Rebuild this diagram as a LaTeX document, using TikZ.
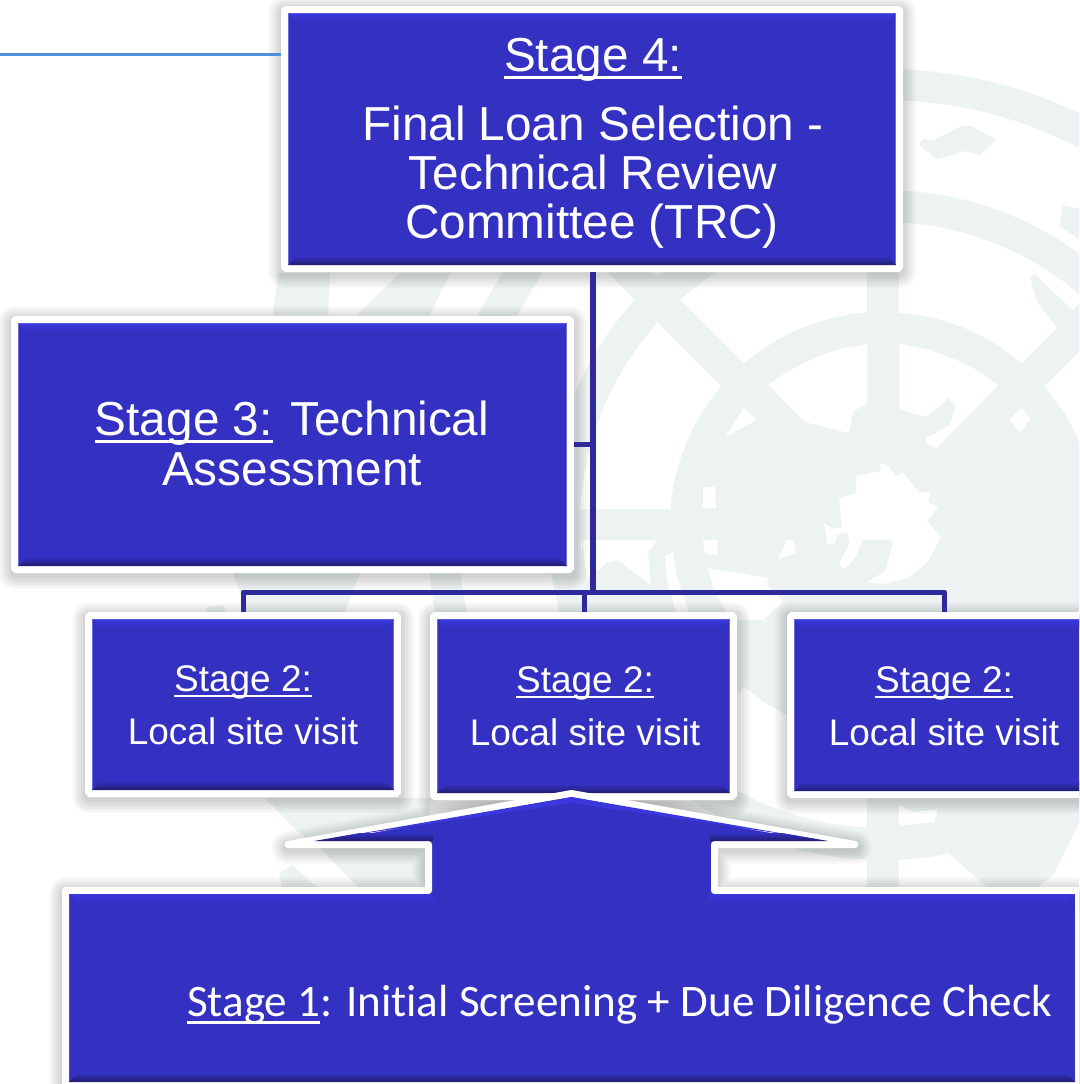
\documentclass[tikz,border=0pt]{standalone}
\usepackage{fontspec}
\setmainfont{Liberation Sans}
\newfontfamily\carl[Ligatures=NoCommon]{Carlito}
\usetikzlibrary{calc}
\definecolor{wm}{HTML}{EDF3F3}
\definecolor{boxblue}{HTML}{3330C2}
\definecolor{boxlight}{HTML}{3A37DC}
\definecolor{boxdark}{HTML}{1F1D6C}
\definecolor{boxedge}{HTML}{6A68DC}
\definecolor{conn}{HTML}{2E2A9C}
\definecolor{rule}{HTML}{4B92DB}
\newcommand{\ulx}[3]{\setbox0=\hbox{#1}\rlap{\raisebox{#2}{\rule{\wd0}{#3}}}#1}
\tikzset{
  bluebox/.style={rectangle,draw=white,line width=7pt,fill=boxblue,rounded corners=1.5pt,outer sep=0pt,inner sep=0pt,text=white,align=center},
  linkline/.style={draw=conn,line width=5pt},
  trunkline/.style={draw=conn,line width=6pt},
  biglabel/.style={text=white,font=\fontsize{47.7}{50}\selectfont,anchor=base},
  midlabel/.style={text=white,font=\fontsize{37}{40}\selectfont,anchor=base},
}
% soft shadow: stacked translucent strokes round a path, shifted down
\newcommand{\softshadow}[1]{%
  \foreach \w in {33,30,...,9}{
    \draw[black,opacity=0.02,line width=\w pt,line join=round,yshift=-3pt] #1;
  }
}
\newcommand{\bevel}[1]{%
  \draw[boxedge,line width=0.6pt] ($(#1.south west)+(3.8pt,3.8pt)$) rectangle ($(#1.north east)+(-3.8pt,-3.8pt)$);
  \shade[top color=boxlight,bottom color=boxblue] ($(#1.north west)+(4.2pt,-4.2pt)$) -- ($(#1.north east)+(-4.2pt,-4.2pt)$) -- ($(#1.north east)+(-12.5pt,-12.5pt)$) -- ($(#1.north west)+(12.5pt,-12.5pt)$) -- cycle;
  \shade[top color=boxblue,bottom color=boxdark,middle color=boxblue!55!boxdark] ($(#1.south west)+(3.5pt,3.5pt)$) -- ($(#1.south east)+(-3.5pt,3.5pt)$) -- ($(#1.south east)+(-12.5pt,12.5pt)$) -- ($(#1.south west)+(12.5pt,12.5pt)$) -- cycle;
}
\begin{document}
\begin{tikzpicture}[x=1pt,y=-1pt]
\useasboundingbox (0,0) rectangle (1079,1084);
\fill[white] (0,0) rectangle (1079,1084);
\begin{scope}
\clip (0,0) rectangle (1079,1084);
% watermark rings
\fill[wm,even odd rule] (883,525) circle (456pt) (883,525) circle (425pt);
\fill[wm,even odd rule] (883,525) circle (335pt) (883,525) circle (303pt);
\fill[wm] (883,525) circle (213pt);
\foreach \a in {0,45,...,315}{
  \draw[wm,line width=32pt] (883,525) -- ++(\a:456pt);
}
% land outside the inner ring
\fill[wm] (582,540) rectangle (725,640);
\fill[wm] (899,780) -- (1079,780) -- (1079,823) -- (1053,875) -- (1038,887) -- (987,887) -- (948,853) -- (899,858) -- cycle;
\fill[wm] (1030,277) -- (1034,274) -- (1073,310) -- (1079,304) -- (1079,335) -- (1056,327) -- (1037,302) -- cycle;
\fill[wm] (1063,205) -- (1079,209) -- (1079,239) -- (1059.5,226) -- cycle;
\fill[wm] (919,145) -- (923,139) -- (932,141) -- (962,126) -- (971,126) -- (995,139) -- (993,143.5) -- (979,155) -- (964.6,151) -- (937.6,159.6) -- cycle;
% white seas
\fill[white] (867,344) -- (867,404) -- (853,411) -- (849,433) -- (805,422) -- (768,385) -- (790,370) -- (814,358) -- (840,349) -- cycle;
\fill[white] (899.5,344) -- (899.5,409) -- (926,417) -- (949,398) -- (956,406) -- (950,425) -- (927,438) -- (925,442) -- (936,448.5) -- (998.5,385) -- (980,372) -- (961.5,362) -- (930,350) -- cycle;
\fill[white] (1045,385) -- (1079,354) -- (1079,413) -- (1065,413) -- (1055,400) -- cycle;
\fill[white] (744,408) -- (757,420) -- (725,437) -- cycle;
\fill[white] (1022,408) -- (1030,419) -- (1020,433.6) -- (1010,419) -- cycle;
\fill[white] (856,476) -- (881,471) -- (880,464) -- (888,465) -- (896,477) -- (902.5,472) -- (919,492) -- (931,492) -- (928,502) -- (938,507) -- (927,521) -- (941,537) -- (927,563) -- (907,578) -- (883,584) -- (868,582) -- (885,571) -- (893,543) -- (890,540) -- (862,540) -- (856,557) -- (844,569) -- (839,564) -- (850,542) -- (847,532) -- (837,534) -- (835,543) -- (828,545) -- (826,537) -- (824,523) -- (833,529) -- (842,527) -- (839,499) -- (856,493) -- cycle;
\fill[white] (703,487) -- (715,487) -- (716,508) -- (703,508) -- cycle;
\fill[white] (703,540) -- (717,540) -- (717,555) -- (705,554) -- cycle;
\fill[white] (778,559) -- (787,540) -- (793,540) -- (796,553) -- cycle;
\fill[white] (582,540) -- (657,540) -- (648,552) -- (651,585) -- (618,560) -- (608,562) -- (596,572) -- (587,578) -- cycle;
\fill[white] (665,556) -- (673,552) -- (677,577) -- (688,610) -- (680,625) -- (667,580) -- cycle;
\fill[white] (708,568) -- (768,578) -- (767,586) -- (783,601) -- (763,620) -- (733,620) -- (725,610) -- (713,587) -- cycle;
\fill[white] (899,805) -- (913,812) -- (938,809) -- (934,822) -- (899,825.7) -- cycle;
% wreath
\fill[wm] (278,273) -- (330,273) -- (328,315) -- (273,315) -- cycle;
\fill[wm] (400,273) -- (450,273) -- (430,315) -- (357,315) -- cycle;
\fill[wm] (502,273) -- (542,273) -- (517,315) -- (480,315) -- cycle;
\fill[wm] (233,573) -- (360,573) -- (345,612) -- (247,612) -- cycle;
\fill[wm] (207,607) -- (223,605) -- (226,612) -- (205,612) -- cycle;
\fill[wm] (265,798) -- (430,798) -- (425,887) -- (358,887) -- (320,848) -- (296,830) -- cycle;
\fill[wm] (279,873) -- (292,865) -- (317,887) -- (282,887) -- cycle;
% shadows
\softshadow{(284.5,9.5) rectangle (899.5,268.5)}
\softshadow{(14.5,319.5) rectangle (570.5,569.5)}
\softshadow{(88.5,615.5) rectangle (397.5,793.5)}
\softshadow{(433.5,615.5) rectangle (733.5,796.5)}
\softshadow{(790.5,615.5) rectangle (1099.5,794.5)}
\softshadow{(65.5,890.5) -- (428.5,890.5) -- (428.5,844.5) -- (288,844.5) -- (571.5,793.5) -- (855,844.5) -- (714.5,844.5) -- (714.5,890.5) -- (1100,890.5) -- (1100,1085.5) -- (65.5,1085.5) -- cycle}
% boxes
\node[bluebox,minimum width=615pt,minimum height=259pt] (s4) at (592,139) {};
\node[bluebox,minimum width=556pt,minimum height=250pt] (s3) at (292.5,444.5) {};
\node[bluebox,minimum width=309pt,minimum height=178pt] (s2a) at (243,704.5) {};
\node[bluebox,minimum width=300pt,minimum height=181pt] (s2b) at (583.5,706) {};
\node[bluebox,minimum width=309pt,minimum height=179pt] (s2c) at (945,705) {};
% connectors
\coordinate (bus) at (593,592);
\coordinate (trunktop) at (593,272);
\coordinate (busl) at (243,592);
\coordinate (busm) at (584.5,592);
\coordinate (busr) at (944.5,592);
\coordinate (dropl) at (243,612);
\coordinate (dropm) at (584.5,612);
\coordinate (dropr) at (944.5,612);
\coordinate (stub) at (590,444);
\coordinate (stubs) at (574,444);
\coordinate (rulestart) at (0,54.7);
\coordinate (ruleend) at (281,54.7);
\draw[draw=rule,line width=3.2pt] (rulestart) -- (ruleend);
\draw[trunkline] (trunktop) -- (bus);
\draw[linkline,line join=round] (dropl) -- (busl) -- (busr) -- (dropr);
\draw[linkline] (busm) -- (dropm);
\draw[linkline] (stubs) -- (stub);
\foreach \n in {s4,s3,s2a,s2b,s2c}{\bevel{\n}}
% stage 1 arrow
\path[draw=white,line width=7pt,fill=boxblue,line join=round]
  (65.5,890.5) -- (428.5,890.5) -- (428.5,844.5) -- (288,844.5) -- (571.5,793.5) -- (855,844.5) -- (714.5,844.5) -- (714.5,890.5) -- (1100,890.5) -- (1100,1085.5) -- (65.5,1085.5) -- cycle;
\fill[boxlight] (317,841) -- (571.5,797) -- (826,841) -- (790,835) -- (571.5,803) -- (353,835) -- cycle;
\shade[top color=boxblue,bottom color=boxdark] (314,841) -- (433,841) -- (433,833) -- (360,833) -- cycle;
\shade[top color=boxblue,bottom color=boxdark] (828,841) -- (710,841) -- (710,833) -- (782,833) -- cycle;
\shade[top color=boxlight,bottom color=boxblue] (69,894) -- (432,894) -- (438,904) -- (79,904) -- cycle;
\shade[top color=boxlight,bottom color=boxblue] (711,894) -- (1075,894) -- (1065,904) -- (705,904) -- cycle;
\shade[top color=boxblue,bottom color=boxdark] (69,1082) -- (1075,1082) -- (1066,1073) -- (78,1073) -- cycle;
\fill[white] (1075,888) rectangle (1079,1084);
% labels
\node[biglabel] (t4a) at (593,71) {\ulx{Stage 4:}{-8pt}{2.6pt}};
\node[biglabel] (t4b) at (593,140) {Final Loan Selection -};
\node[biglabel] (t4c) at (593,189) {Technical Review};
\node[biglabel] (t4d) at (592,238) {Committee (TRC)};
\node[biglabel] (t3a) at (292,435) {\ulx{Stage 3:}{-8pt}{3pt} Technical};
\node[biglabel] (t3b) at (292,485) {Assessment};
\foreach \x/\n/\y in {243/a/0,585/b/1,944/c/1}{
  \node[midlabel] (t2\n a) at (\x,{691+\y}) {\ulx{Stage 2:}{-6pt}{2.2pt}};
  \node[midlabel] (t2\n b) at (\x,{744+\y}) {Local site visit};
}
\node[text=white,font=\carl\fontsize{45.1}{48}\selectfont,anchor=base west,inner sep=0pt] (t1) at (187,1016) {\ulx{Stage 1}{-8pt}{3.2pt}: Initial Screening + Due Diligence Check};
\end{scope}
\end{tikzpicture}
\end{document}
